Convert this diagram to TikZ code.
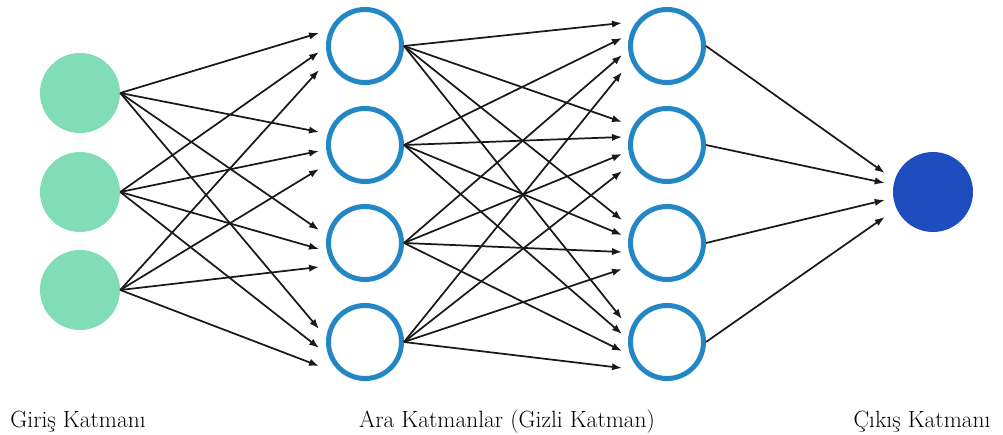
\documentclass[tikz,border=0pt]{standalone}
\usetikzlibrary{arrows.meta,calc}
\definecolor{inputgreen}{HTML}{80DDB8}
\definecolor{ringblue}{HTML}{2387C6}
\definecolor{outblue}{HTML}{1E4DC0}
\begin{document}
\begin{tikzpicture}[x=0.75pt,y=-0.75pt,
  inputnode/.style={circle,fill=inputgreen,minimum size=60pt,inner sep=0pt},
  hiddennode/.style={circle,draw=ringblue,line width=3.75pt,fill=white,minimum size=54.75pt,inner sep=0pt},
  outputnode/.style={circle,fill=outblue,minimum size=60pt,inner sep=0pt},
  conn/.style={line width=1.3pt,draw=black!90,-{Latex[length=7.5pt,width=5.5pt]}},
  lbl/.style={font=\fontsize{17.6}{20}\selectfont,anchor=base,inner sep=0pt}]
\useasboundingbox (0,0) rectangle (1003,435);
% input layer
\node[inputnode] (i1) at (80,93) {};
\node[inputnode] (i2) at (80,192) {};
\node[inputnode] (i3) at (80,290) {};
% hidden layers
\foreach \j/\y in {1/46,2/145,3/243,4/342}{
  \node[hiddennode] (ha\j) at (365,\y) {};
  \node[hiddennode] (hb\j) at (667,\y) {};
}
% output
\node[outputnode] (o) at (933,192) {};
% connectors input -> hidden 1
\foreach \i/\d in {1/-13,2/6,3/24}{
  \foreach \j in {1,...,4}{
    \draw[conn] (i\i.east) -- ($(ha\j.west)+(-7,\d)$);
  }
}
% hidden 1 -> hidden 2
\foreach \i/\d in {1/-23,2/-8,3/9,4/26}{
  \foreach \j in {1,...,4}{
    \draw[conn] (ha\i.east) -- ($(hb\j.west)+(-6,\d)$);
  }
}
% hidden 2 -> output
\foreach \i/\d in {1/-19,2/-9,3/8,4/25}{
  \draw[conn] (hb\i.east) -- ($(o.west)+(-8,\d)$);
}
% labels
\node[lbl] (l1) at (78,427) {Giriş Katmanı};
\node[lbl] (l2) at (507,427) {Ara Katmanlar (Gizli Katman)};
\node[lbl] (l3) at (922,427) {Çıkış Katmanı};
\end{tikzpicture}
\end{document}
